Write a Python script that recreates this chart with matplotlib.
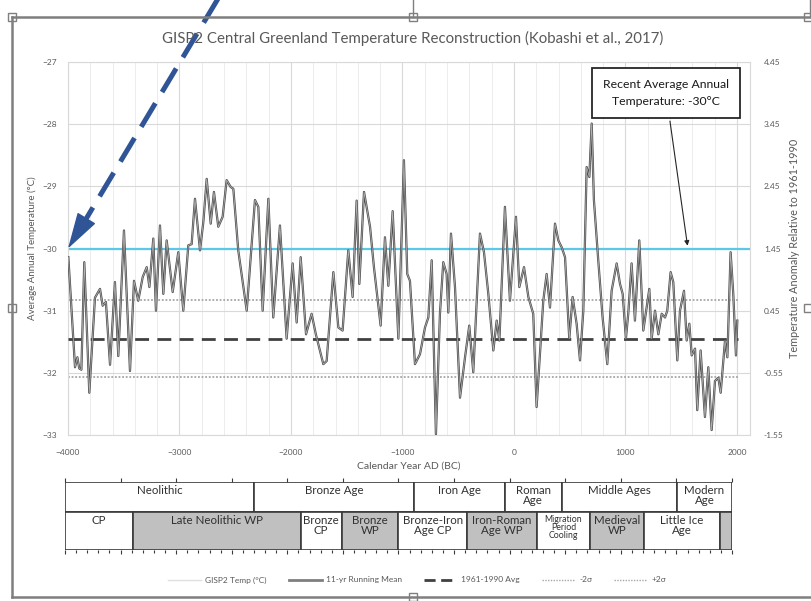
import matplotlib
matplotlib.use("Agg")
import matplotlib.pyplot as plt
from matplotlib.lines import Line2D
from matplotlib.patches import Rectangle
from matplotlib.ticker import MultipleLocator

plt.rcParams['font.family'] = ['Lato', 'DejaVu Sans']

# 11-yr running mean
years_rm = [-3997, -3937, -3916, -3899, -3880, -3854, -3809, -3758, -3713, -3689, -3660, -3623,
            -3579, -3549, -3498, -3444, -3408, -3370, -3330, -3294, -3270, -3235, -3211, -3175,
            -3145, -3115, -3061, -3011, -2966, -2921, -2891, -2861, -2816, -2786, -2756, -2720,
            -2691, -2652, -2613, -2577, -2541, -2517, -2473, -2397, -2323, -2293, -2254, -2203,
            -2159, -2099, -2039, -1985, -1949, -1913, -1865, -1815, -1777, -1710, -1680, -1620,
            -1575, -1537, -1486, -1447, -1411, -1387, -1345, -1291, -1256, -1196, -1157, -1127,
            -1088, -1037, -987, -957, -933, -888, -843, -798, -768, -738, -700, -664,
            -634, -604, -589, -565, -529, -484, -439, -401, -365, -305, -269, -230,
            -185, -155, -131, -81, -36, 18, 48, 90, 129, 173, 203, 263,
            293, 323, 368, 398, 428, 458, 496, 526, 562, 592, 622, 652,
            676, 697, 717, 756, 795, 837, 876, 921, 951, 975, 1004, 1025,
            1055, 1085, 1124, 1160, 1190, 1214, 1235, 1265, 1295, 1325, 1355, 1375,
            1405, 1429, 1465, 1489, 1525, 1549, 1573, 1594, 1624, 1644, 1674, 1713,
            1743, 1773, 1803, 1833, 1854, 1893, 1914, 1943, 1967, 1991, 2003]
temp_rm = [-30.14, -31.91, -31.75, -31.93, -31.95, -30.22, -32.32, -30.79, -30.65, -30.92, -30.86, -31.87,
           -30.54, -31.73, -29.71, -31.97, -30.52, -30.84, -30.46, -30.30, -30.62, -29.84, -31.00, -29.63,
           -30.73, -29.87, -30.70, -30.06, -31.00, -29.95, -29.93, -29.20, -30.03, -29.57, -28.88, -29.60,
           -29.09, -29.65, -29.49, -28.90, -29.01, -29.04, -30.03, -31.00, -29.22, -29.33, -31.00, -29.20,
           -31.11, -29.63, -31.45, -30.24, -31.19, -30.14, -31.38, -31.05, -31.38, -31.86, -31.81, -30.38,
           -31.27, -31.32, -30.03, -30.78, -29.23, -30.57, -29.09, -29.65, -30.30, -31.24, -29.82, -30.60,
           -29.40, -31.45, -28.58, -30.41, -30.52, -31.86, -31.70, -31.27, -31.11, -30.19, -32.99, -31.05,
           -30.22, -30.41, -31.03, -29.76, -30.62, -32.40, -31.75, -31.24, -31.99, -29.76, -30.06, -30.73,
           -31.64, -31.16, -31.48, -29.33, -30.84, -29.49, -30.62, -30.30, -30.78, -31.05, -32.55, -30.84,
           -30.41, -30.95, -29.60, -29.87, -29.98, -30.14, -31.45, -30.78, -31.21, -31.80, -31.00, -28.69,
           -28.85, -27.99, -29.22, -30.19, -31.11, -31.86, -30.68, -30.24, -30.57, -30.73, -31.45, -31.05,
           -30.24, -31.16, -29.87, -31.32, -30.95, -30.65, -31.45, -31.00, -31.38, -31.05, -31.11, -31.00,
           -30.38, -30.54, -31.80, -31.00, -30.68, -31.48, -31.21, -31.72, -31.61, -32.60, -31.64, -32.71,
           -31.91, -32.92, -32.13, -32.08, -32.32, -31.48, -31.75, -30.06, -30.73, -31.72, -31.16]

recent_avg = -30.0
avg_1961_1990 = -31.45
two_sigma = 0.62

# period table
periods_top = ['Neolithic', 'Bronze Age', 'Iron Age', 'Roman\nAge', 'Middle Ages', 'Modern\nAge']
edges_top = [-4000, -2300, -860, -45, 470, 1505, 2000]
periods_bot = ['CP', 'Late Neolithic WP', 'Bronze\nCP', 'Bronze\nWP', 'Bronze-Iron\nAge CP',
               'Iron-Roman\nAge WP', 'Migration\nPeriod\nCooling', 'Medieval\nWP', 'Little Ice\nAge', '']
edges_bot = [-4000, -3390, -1880, -1510, -1000, -385, 245, 722, 1205, 1895, 2000]
warm_bot = [False, True, False, True, False, True, False, True, False, True]

W, H = 812, 601
fig = plt.figure(figsize=(W / 100, H / 100), dpi=100)

def fx(px):
    return px / W

def fy(py):
    return 1 - py / H

ax = fig.add_axes([fx(68), fy(435), fx(750) - fx(68), fy(62) - fy(435)])
ax.set_xlim(-4000, 2117)
ax.set_ylim(-33, -27)

ax.xaxis.set_major_locator(MultipleLocator(1000))
ax.xaxis.set_minor_locator(MultipleLocator(200))
ax.yaxis.set_major_locator(MultipleLocator(1))
ax.grid(which='major', color='#d9d9d9', lw=0.8)
ax.grid(which='minor', axis='x', color='#ececec', lw=0.7)
ax.set_axisbelow(True)
for s in ax.spines.values():
    s.set_color('#d9d9d9')
ax.tick_params(which='both', length=0, labelsize=6, labelcolor='#595959')
ax.tick_params(axis='x', pad=10)
ax.tick_params(axis='y', pad=8)
ax.set_xticks(range(-4000, 2001, 1000))
ax.set_yticks(range(-33, -26))

ax.axhline(recent_avg, color='#5bc8ea', lw=1.6, zorder=2)
ax.hlines([avg_1961_1990 + two_sigma, avg_1961_1990 - two_sigma], -4000, 2010,
          colors='#a6a6a6', linestyles=(0, (1, 1)), lw=1.3, zorder=2)
ax.hlines(avg_1961_1990, -4000, 2010, colors='#404040', linestyles=(0, (5, 3)), lw=2.0, zorder=3)
ax.plot(years_rm, temp_rm, color='#4d4d4d', lw=1.6, zorder=4)
ax.plot(years_rm, temp_rm, color='#b3b3b3', lw=0.55, zorder=5)

ax.set_xlabel('Calendar Year AD (BC)', fontsize=7.5, color='#595959', labelpad=4)
ax.set_ylabel('Average Annual Temperature (\u00b0C)', fontsize=7, color='#595959', labelpad=4)

ax2 = ax.twinx()
ax2.set_ylim(-33 - avg_1961_1990, -27 - avg_1961_1990)
ax2.set_yticks([v - avg_1961_1990 for v in range(-33, -26)])
ax2.set_yticklabels(['%.2f' % (v - avg_1961_1990) for v in range(-33, -26)])
ax2.tick_params(length=0, labelsize=6, labelcolor='#595959', pad=10)
for s in ax2.spines.values():
    s.set_visible(False)
ax2.set_ylabel('Temperature Anomaly Relative to 1961-1990', fontsize=7.8, color='#595959', labelpad=4)

fig.text(fx(413), fy(38), 'GISP2 Central Greenland Temperature Reconstruction (Kobashi et al., 2017)',
         ha='center', va='center', fontsize=10.8, color='#595959')

ax.annotate('Recent Average Annual\nTemperature: -30\u00b0C', xy=(1560, recent_avg),
            xytext=(fx(666), fy(93)), textcoords='figure fraction', ha='center', va='center',
            fontsize=8.8, color='#1a1a1a', linespacing=1.6,
            bbox=dict(boxstyle='square,pad=0.9', fc='white', ec='#262626', lw=1.3),
            arrowprops=dict(arrowstyle='-|>', color='#262626', lw=0.8, mutation_scale=7))

# blue dashed pointer: dashed shaft plus a solid head
fig.add_artist(Line2D([fx(222), fx(86)], [fy(-8), fy(219)], color='#2f5597', lw=3.6,
                      ls=(0, (5.5, 2.6)), solid_capstyle='butt', dash_capstyle='butt'))
ax.annotate('', xy=(-4000, recent_avg), xytext=(fx(86), fy(219)), textcoords='figure fraction',
            annotation_clip=False,
            arrowprops=dict(arrowstyle='-|>,head_length=1.3,head_width=0.38', color='#2f5597',
                            lw=1, mutation_scale=18, shrinkA=0, shrinkB=0))

# period table
tb = fig.add_axes([fx(65), fy(550), fx(732) - fx(65), fy(482) - fy(550)])
tb.set_xlim(-4000, 2000)
tb.set_ylim(0, 68)
split = 38
for i, name in enumerate(periods_top):
    x0, x1 = edges_top[i], edges_top[i + 1]
    tb.add_patch(Rectangle((x0, split), x1 - x0, 68 - split, fc='white', ec='#3a3a3a', lw=1.2))
    tb.text((x0 + x1) / 2, 65, name, ha='center', va='top', fontsize=8.3, color='#303030',
            linespacing=0.9)
for i, name in enumerate(periods_bot):
    x0, x1 = edges_bot[i], edges_bot[i + 1]
    tb.add_patch(Rectangle((x0, 0), x1 - x0, split, fc='#c0c0c0' if warm_bot[i] else 'white',
                           ec='#3a3a3a', lw=1.2))
    fs = 6.3 if 'Migration' in name else 8.3
    tb.text((x0 + x1) / 2, split - 2.5, name, ha='center', va='top', fontsize=fs, color='#303030',
            linespacing=0.9)
for s in tb.spines.values():
    s.set_visible(False)
tb.set_yticks([])
tb.xaxis.set_major_locator(MultipleLocator(500))
tb.xaxis.set_minor_locator(MultipleLocator(100))
tb.tick_params(which='major', top=True, bottom=True, length=3, width=0.8, color='#3a3a3a',
               labelbottom=False, direction='out')
tb.tick_params(which='minor', top=False, bottom=True, length=2, width=0.8, color='#3a3a3a',
               direction='out')

handles = [Line2D([], [], color='#e0e0e0', lw=1),
           Line2D([], [], color='#7f7f7f', lw=2),
           Line2D([], [], color='#404040', lw=2, ls=(0, (4, 2))),
           Line2D([], [], color='#a6a6a6', lw=1, ls=(0, (1, 1))),
           Line2D([], [], color='#a6a6a6', lw=1, ls=(0, (1, 1)))]
labels = ['GISP2 Temp (\u00b0C)', '11-yr Running Mean', '1961-1990 Avg', '-2\u03c3', '+2\u03c3']
fig.legend(handles, labels, loc='center', bbox_to_anchor=(fx(417), fy(580)), ncol=5,
           frameon=False, fontsize=6, labelcolor='#595959', handlelength=4, columnspacing=2.6,
           handletextpad=0.5)

# selection frame around the pasted chart
fc = '#7f7f7f'
fig.add_artist(Line2D([fx(12), fx(812)], [fy(17), fy(17)], color=fc, lw=1.8))
fig.add_artist(Line2D([fx(12), fx(12)], [fy(17), fy(597)], color=fc, lw=1.8))
fig.add_artist(Line2D([fx(12), fx(812)], [fy(597), fy(597)], color=fc, lw=1.8))
fig.add_artist(Line2D([fx(413), fx(413)], [fy(0), fy(17)], color=fc, lw=1.0))
fig.add_artist(Line2D([fx(810), fx(810)], [fy(0), fy(17)], color=fc, lw=1.0))
for hx, hy in [(12, 17), (413, 17), (12, 308), (413, 597), (808, 17), (808, 308)]:
    fig.add_artist(Rectangle((fx(hx - 4), fy(hy + 4)), fx(8), 8 / H, fc='white', ec=fc, lw=1.0))

fig.savefig('out.png', dpi=100)
